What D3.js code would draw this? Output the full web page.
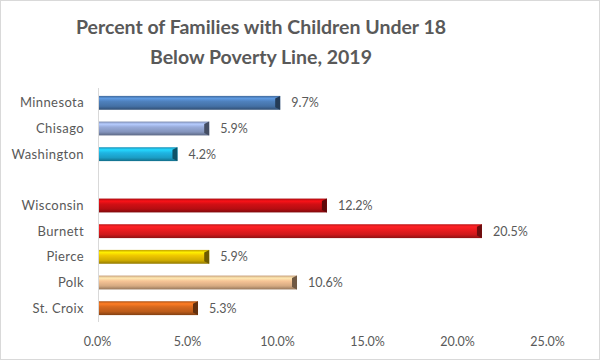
<!DOCTYPE html>
<html>
<head>
<meta charset="utf-8">
<script src="https://cdn.jsdelivr.net/npm/d3@7"></script>
<style>
  body { margin: 0; background: #fff; }
  text { font-family: Lato, "Open Sans", sans-serif; fill: #595959; }
</style>
</head>
<body>
<svg id="chart" width="601" height="361"></svg>
<script>
"use strict";

// Categories, top to bottom. The empty entry is the gap between the MN and WI groups.
const categories = ["Minnesota", "Chisago", "Washington", "", "Wisconsin", "Burnett", "Pierce", "Polk", "St. Croix"];
const values = [9.7, 5.9, 4.2, null, 12.2, 20.5, 5.9, 10.6, 5.3];
const barColors = ["#4f81bd", "#98abd9", "#1fb5e3", null, "#d10f14", "#ec1c1f", "#f0c800", "#f6c496", "#d8691e"];
const tickValues = [0, 5, 10, 15, 20, 25];
const titleLines = ["Percent of Families with Children Under 18", "Below Poverty Line, 2019"];

const svg = d3.select("#chart");
const W = 601, H = 361;

// outer border
svg.append("rect")
    .attr("x", 0.5).attr("y", 0.5)
    .attr("width", W - 2).attr("height", H - 2)
    .attr("fill", "#fff")
    .attr("stroke", "#d9d9d9");

// title
svg.append("g").selectAll("text")
    .data(titleLines)
    .join("text")
    .attr("x", 261)
    .attr("y", (d, i) => 34 + i * 30)
    .attr("text-anchor", "middle")
    .style("font-size", "19.5px")
    .style("font-weight", "bold")
    .text(d => d);

// scales: bars are drawn on the back plane of the 3D chart, the tick labels on the front,
// so the label scale is a bit shorter than the bar scale.
const x = d3.scaleLinear().domain([0, 25]).range([99, 566]);
const xLabels = d3.scaleLinear().domain([0, 25]).range([97, 547]);
const y = d3.scaleBand().domain(categories).range([90, 321]).paddingInner(0.46).paddingOuter(0.23);

const defs = svg.append("defs");
barColors.forEach(function (c, i) {
    if (!c) return;
    let base = d3.color(c);
    let g = defs.append("linearGradient")
        .attr("id", "grad" + i)
        .attr("x1", 0).attr("y1", 0).attr("x2", 0).attr("y2", 1);
    g.append("stop").attr("offset", "0%").attr("stop-color", base.darker(0.6));
    g.append("stop").attr("offset", "18%").attr("stop-color", base.brighter(0.5));
    g.append("stop").attr("offset", "40%").attr("stop-color", base);
    g.append("stop").attr("offset", "75%").attr("stop-color", base.darker(0.4));
    g.append("stop").attr("offset", "100%").attr("stop-color", base.darker(1.4));
});

// vertical axis line
svg.append("line")
    .attr("x1", 98.5).attr("x2", 98.5)
    .attr("y1", 88).attr("y2", 322)
    .attr("stroke", "#d9d9d9");

const rows = categories.map((c, i) => ({ name: c, value: values[i], idx: i }))
    .filter(d => d.value !== null);

const bars = svg.append("g").selectAll("g")
    .data(rows)
    .join("g");

bars.append("rect")
    .attr("x", x(0))
    .attr("y", d => y(d.name))
    .attr("width", d => x(d.value) - x(0))
    .attr("height", y.bandwidth())
    .attr("fill", d => "url(#grad" + d.idx + ")");

// bevelled end cap
bars.append("path")
    .attr("d", function (d) {
        let x1 = x(d.value), y0 = y(d.name), h = y.bandwidth();
        return "M" + (x1 - 5) + "," + (y0 + 2.5) + "L" + x1 + "," + y0 + "L" + x1 + "," + (y0 + h) +
            "L" + (x1 - 5) + "," + (y0 + h - 2.5) + "Z";
    })
    .attr("fill", d => d3.color(barColors[d.idx]).darker(2.2));

// value labels
bars.append("text")
    .attr("x", d => x(d.value) + 11)
    .attr("y", d => y(d.name) + y.bandwidth() / 2)
    .attr("dy", "0.35em")
    .style("font-size", "12.5px")
    .text(d => d.value.toFixed(1) + "%");

// category labels
svg.append("g").selectAll("text")
    .data(categories.filter(c => c !== ""))
    .join("text")
    .attr("x", 84)
    .attr("y", d => y(d) + y.bandwidth() / 2)
    .attr("dy", "0.35em")
    .attr("text-anchor", "end")
    .style("font-size", "13px")
    .style("letter-spacing", "0.4px")
    .text(d => d);

// x axis labels
const xAxis = svg.append("g")
    .attr("transform", "translate(0,342)")
    .call(d3.axisBottom(xLabels).tickValues(tickValues).tickSize(0).tickPadding(0)
        .tickFormat(d => d.toFixed(1) + "%"));
xAxis.select(".domain").remove();
xAxis.selectAll("text")
    .attr("dy", "0.35em")
    .attr("fill", "#595959")
    .style("font-size", "12.5px")
    .style("font-family", "Lato, 'Open Sans', sans-serif");
</script>
</body>
</html>
